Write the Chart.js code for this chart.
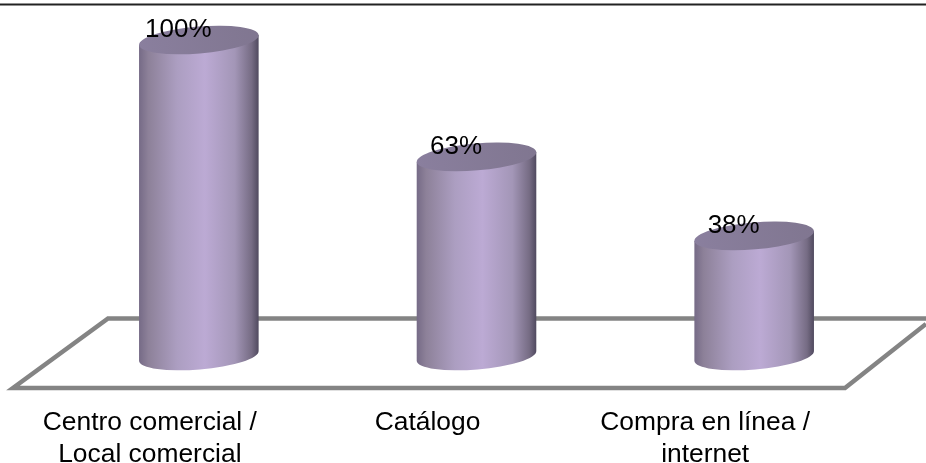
<!DOCTYPE html>
<html lang="es">
<head>
  <meta charset="UTF-8">
  <title>Canal de compra</title>
  <script src="https://cdn.jsdelivr.net/npm/chart.js"></script>
  <style>
    html, body { margin: 0; padding: 0; background: #fff; }
    #wrap { width: 926px; height: 463px; }
  </style>
</head>
<body>

<div id="wrap"><canvas id="canalChart"></canvas></div>

<script>
  const categories = [
    ['Centro comercial /', 'Local comercial'],
    'Catálogo',
    ['Compra en línea /', 'internet']
  ];
  const percentages = [100, 63, 38];

  const FONT = '"Liberation Sans", Arial, sans-serif';
  const TILT = -4.8 * Math.PI / 180;
  const CAP_RY = 13.5;

  // Rule across the top and the grey floor outline under the bars
  const floorPlugin = {
    id: 'floor',
    beforeDatasetsDraw(chart) {
      const { ctx, width } = chart;
      const y0 = chart.scales.y.getPixelForValue(0);
      ctx.save();
      ctx.strokeStyle = '#222';
      ctx.lineWidth = 2;
      ctx.beginPath();
      ctx.moveTo(0, 4.5);
      ctx.lineTo(width, 4.5);
      ctx.stroke();

      ctx.strokeStyle = '#848484';
      ctx.lineWidth = 4.5;
      ctx.lineJoin = 'miter';
      ctx.beginPath();
      ctx.moveTo(width, y0 - 37.5);
      ctx.lineTo(108, y0 - 37.5);
      ctx.lineTo(13, y0 + 32);
      ctx.lineTo(845, y0 + 32);
      ctx.lineTo(width, y0 - 32);
      ctx.stroke();
      ctx.restore();
    }
  };

  // Bars are painted as tilted cylinders, using the geometry of the bar elements
  const cylinderPlugin = {
    id: 'cylinder',
    beforeDatasetDraw(chart, args) {
      const { ctx } = chart;
      const bars = chart.getDatasetMeta(args.index).data;
      bars.forEach((bar, i) => {
        const rx = bar.width / 2;
        const left = bar.x - rx;
        const right = bar.x + rx;
        const dx = rx * Math.cos(TILT);
        const dy = rx * Math.sin(TILT);

        const side = ctx.createLinearGradient(left, 0, right, 0);
        side.addColorStop(0, '#756a86');
        side.addColorStop(0.08, '#8d8199');
        side.addColorStop(0.32, '#ac9ec1');
        side.addColorStop(0.55, '#bcaad4');
        side.addColorStop(0.8, '#a396b7');
        side.addColorStop(0.94, '#766c84');
        side.addColorStop(1, '#4f495e');

        ctx.save();
        ctx.fillStyle = side;
        ctx.beginPath();
        ctx.moveTo(bar.x - dx, bar.y - dy);
        ctx.lineTo(bar.x - dx, bar.base - dy);
        ctx.ellipse(bar.x, bar.base, rx, CAP_RY, TILT, Math.PI, 0, true);
        ctx.lineTo(bar.x + dx, bar.y + dy);
        ctx.closePath();
        ctx.fill();

        const cap = ctx.createLinearGradient(left, bar.y + CAP_RY, right, bar.y - CAP_RY);
        cap.addColorStop(0, '#8a7f9e');
        cap.addColorStop(1, '#807690');
        ctx.fillStyle = cap;
        ctx.beginPath();
        ctx.ellipse(bar.x, bar.y, rx, CAP_RY, TILT, 0, Math.PI * 2);
        ctx.fill();

        ctx.fillStyle = '#000';
        ctx.font = '26px ' + FONT;
        ctx.textAlign = 'center';
        ctx.textBaseline = 'middle';
        ctx.fillText(percentages[i] + '%', bar.x - 20.5, bar.y - 10.5);
        ctx.restore();
      });
      return false;
    }
  };

  new Chart(document.getElementById('canalChart').getContext('2d'), {
    type: 'bar',
    data: {
      labels: categories,
      datasets: [{ data: percentages, barThickness: 120 }]
    },
    plugins: [floorPlugin, cylinderPlugin],
    options: {
      responsive: true,
      maintainAspectRatio: false,
      animation: false,
      layout: { padding: { left: 60, right: 33, top: 40, bottom: 0 } },
      plugins: { legend: { display: false }, tooltip: { enabled: false } },
      scales: {
        y: { display: false, min: 0, max: 100 },
        x: {
          grid: { display: false },
          border: { display: false },
          afterFit(scale) { scale.height = 107; },
          ticks: {
            color: '#000',
            padding: 43,
            labelOffset: -49,
            autoSkip: false,
            maxRotation: 0,
            font: { family: FONT, size: 26.4, lineHeight: 1.2 }
          }
        }
      }
    }
  });
</script>

</body>
</html>
